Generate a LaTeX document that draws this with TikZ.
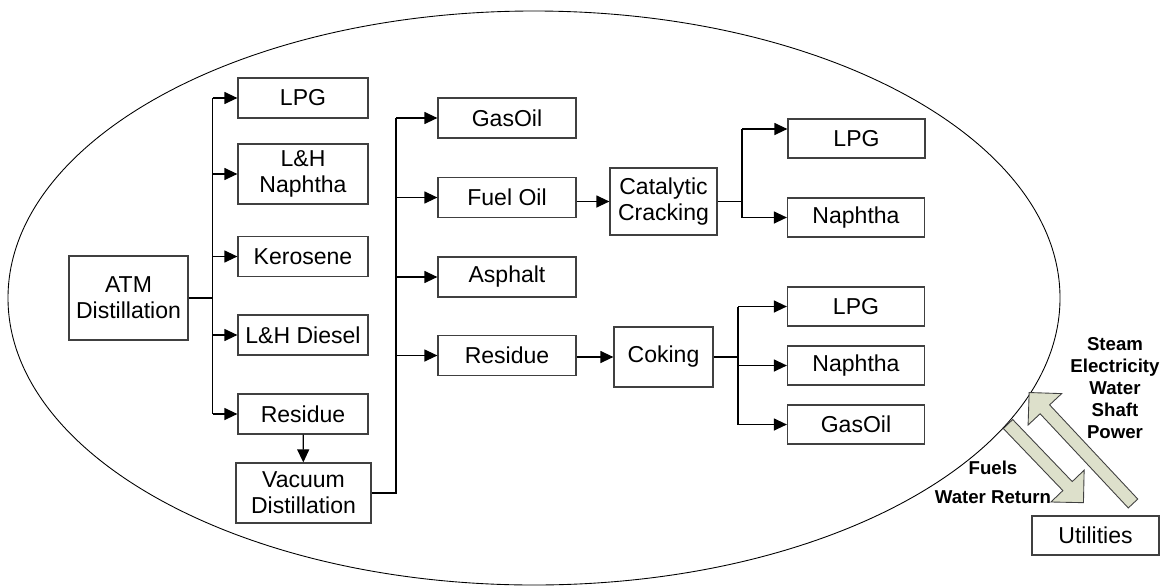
\documentclass[tikz,border=0pt]{standalone}
\usepackage{fontspec}
\setmainfont{Liberation Sans}
\usetikzlibrary{arrows.meta}
\definecolor{boxgray}{RGB}{64,64,64}
\definecolor{utilfill}{RGB}{221,224,203}

\begin{document}
\begin{tikzpicture}[>={Triangle[length=0.26cm,width=0.24cm]},
  unit/.style={shape=rectangle,draw=boxgray,line width=0.7pt,align=center,inner sep=0pt,font=\fontsize{13.1}{14.8}\selectfont},
  flow/.style={line width=0.7pt},
  main/.style={line width=1.2pt},
  blockarrow/.style={draw=boxgray,fill=utilfill,line width=0.5pt},
  note/.style={align=center,font=\bfseries\fontsize{10.6}{12.5}\selectfont}]
\useasboundingbox (0,0) rectangle (23.22,-11.72);

%refinery boundary
\draw [line width=0.5pt] (10.68,-5.96) ellipse (10.52 and 5.74);

%draw atmospheric column with its cuts
\node [unit, minimum width=2.38cm, minimum height=1.68cm] at (2.57,-5.96) (atm) {ATM\\Distillation};
\node [unit, minimum width=2.6cm, minimum height=0.8cm] at (6.06,-1.96) (lpg_a) {LPG};
\node [unit, minimum width=2.6cm, minimum height=1.2cm] at (6.06,-3.48) (naphtha_a) {L\&H\\Naphtha};
\node [unit, minimum width=2.6cm, minimum height=0.8cm] at (6.06,-5.13) (kerosene) {Kerosene};
\node [unit, minimum width=2.6cm, minimum height=0.8cm] at (6.06,-6.70) (diesel) {L\&H Diesel};
\node [unit, minimum width=2.6cm, minimum height=0.8cm] at (6.06,-8.28) (residue_a) {Residue};
\node [unit, minimum width=2.7cm, minimum height=1.2cm] at (6.07,-9.86) (vacuum) {Vacuum\\Distillation};

%draw vacuum cuts
\node [unit, minimum width=2.76cm, minimum height=0.8cm] at (10.14,-2.36) (gasoil_b) {GasOil};
\node [unit, minimum width=2.76cm, minimum height=0.8cm] at (10.14,-3.95) (fueloil) {Fuel Oil};
\node [unit, minimum width=2.76cm, minimum height=0.8cm] at (10.14,-5.54) (asphalt) {Asphalt};
\node [unit, minimum width=2.76cm, minimum height=0.8cm] at (10.14,-7.11) (residue_b) {Residue};

%conversion units and their products
\node [unit, minimum width=2.14cm, minimum height=1.34cm] at (13.27,-4.03) (cracking) {Catalytic\\Cracking};
\node [unit, minimum width=1.98cm, minimum height=1.2cm] at (13.27,-7.14) (coking) {Coking};
\node [unit, minimum width=2.74cm, minimum height=0.78cm] at (17.13,-2.77) (lpg_c) {LPG};
\node [unit, minimum width=2.74cm, minimum height=0.78cm] at (17.12,-4.35) (naphtha_c) {Naphtha};
\node [unit, minimum width=2.74cm, minimum height=0.78cm] at (17.12,-6.13) (lpg_d) {LPG};
\node [unit, minimum width=2.74cm, minimum height=0.78cm] at (17.12,-7.31) (naphtha_d) {Naphtha};
\node [unit, minimum width=2.74cm, minimum height=0.78cm] at (17.12,-8.49) (gasoil_d) {GasOil};

\node [unit, minimum width=2.54cm, minimum height=0.78cm] at (21.91,-10.71) (utilities) {Utilities};

%bus coordinates
\coordinate (bus_a) at (4.25,-5.96);
\coordinate (bus_b) at (7.92,-9.86);
\coordinate (bus_c) at (14.84,-4.03);
\coordinate (bus_d) at (14.76,-7.14);
\coordinate (lpg_c_in) at ([yshift=0.19cm]lpg_c.west);

%atm column to its cuts
\draw [main] (atm.east) -- (bus_a);
\draw [flow] (bus_a |- lpg_a) -- (bus_a |- residue_a);
\path [->,flow] (bus_a |- lpg_a) edge (lpg_a) (bus_a |- naphtha_a) edge (naphtha_a)
  (bus_a |- kerosene) edge (kerosene) (bus_a |- diesel) edge (diesel) (bus_a |- residue_a) edge (residue_a);
\path [->,flow] (residue_a) edge (vacuum);

%vacuum column to its cuts
\draw [main] (vacuum.east) -- (bus_b) -- (bus_b |- gasoil_b);
\path [->,flow] (bus_b |- gasoil_b) edge (gasoil_b) (bus_b |- fueloil) edge (fueloil)
  (bus_b |- asphalt) edge (asphalt) (bus_b |- residue_b) edge (residue_b);

%feeds to conversion units
\draw [->,flow] (cracking.west -| fueloil.east) -- (cracking.west);
\draw [->,flow] (coking.west -| residue_b.east) -- (coking.west);

%conversion products
\draw [flow] (cracking.east) -- (bus_c);
\draw [flow] (bus_c |- lpg_c_in) -- (bus_c |- naphtha_c);
\path [->,flow] (bus_c |- lpg_c_in) edge (lpg_c_in) (bus_c |- naphtha_c) edge (naphtha_c);
\draw [main] (coking.east) -- (bus_d);
\draw [flow] (bus_d |- lpg_d) -- (bus_d |- gasoil_d);
\path [->,flow] (bus_d |- lpg_d) edge (lpg_d) (bus_d |- naphtha_d) edge (naphtha_d) (bus_d |- gasoil_d) edge (gasoil_d);

%utility exchange
\begin{scope}[shift={(20.16,-8.48)},rotate=-46.2]
\draw [blockarrow] (0,0.13) -- (1.72,0.13) -- (1.72,0.46) -- (2.18,0) -- (1.72,-0.46) -- (1.72,-0.13) -- (0,-0.13) -- cycle;
\end{scope}
\begin{scope}[shift={(22.66,-10.07)},rotate=133.1]
\draw [blockarrow] (0,0.13) -- (2.58,0.13) -- (2.58,0.46) -- (3.04,0) -- (2.58,-0.46) -- (2.58,-0.13) -- (0,-0.13) -- cycle;
\end{scope}
\node [note] at (22.3,-7.76) (supply) {Steam\\Electricity\\Water\\Shaft\\Power};
\node [note] at (19.86,-9.65) (returns) {Fuels\\[4pt]Water Return};
\end{tikzpicture}
\end{document}
